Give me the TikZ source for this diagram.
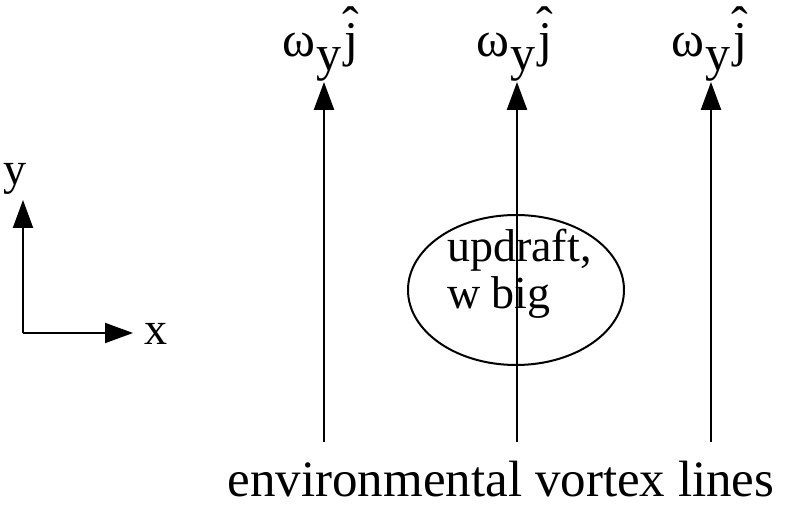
\documentclass[tikz,border=0pt]{standalone}
\usepackage{fontspec}
\setmainfont{Liberation Serif}
\usetikzlibrary{arrows.meta,shapes.geometric}

\newcommand{\omj}{ω\kern0.03em\raisebox{-0.28em}{y}\kern0.05em\ooalign{j\cr\hidewidth\raisebox{0.3em}{ˆ}\hidewidth\cr}}

\begin{document}
\begin{tikzpicture}[x=1pt,y=1pt,
  vline/.style={line width=2.4pt,-{Triangle[length=28pt,width=20pt]}},
  lbl/.style={inner sep=0pt,anchor=base,font=\fontsize{46}{52}\selectfont}]
  \useasboundingbox (0,0) rectangle (785,513);
  % vortex lines
  \coordinate (b1) at (324,71);  \coordinate (t1) at (324,431);
  \coordinate (b2) at (517,71);  \coordinate (t2) at (517,431);
  \coordinate (b3) at (711,71);  \coordinate (t3) at (711,431);
  \draw[vline] (b1) -- (t1);
  \draw[vline] (b2) -- (t2);
  \draw[vline] (b3) -- (t3);
  \node[lbl,font=\fontsize{50}{56}\selectfont] (w1) at (320,456) {\omj};
  \node[lbl,font=\fontsize{50}{56}\selectfont] (w2) at (514,456) {\omj};
  \node[lbl,font=\fontsize{50}{56}\selectfont] (w3) at (709,456) {\omj};
  %
  \node[draw,ellipse,line width=2pt,minimum width=216pt,minimum height=150pt,inner sep=0pt] (up) at (516,223) {};
  \node[lbl,anchor=base west] (txt1) at (447,251) {updraft,};
  \node[lbl,anchor=base west] (txt2) at (447,204) {w big};
  %
  \coordinate (o) at (23,180);
  \coordinate (ytip) at (23,313);
  \coordinate (xtip) at (133,180);
  \draw[vline,line width=2pt] (o) -- (ytip);
  \draw[vline,line width=2pt] (o) -- (xtip);
  \node[lbl] (ylab) at (15,328) {y};
  \node[lbl] (xlab) at (156,168) {x};
  %
  \node[lbl,font=\fontsize{51}{58}\selectfont] (cap) at (501,16) {environmental vortex lines};
\end{tikzpicture}
\end{document}
